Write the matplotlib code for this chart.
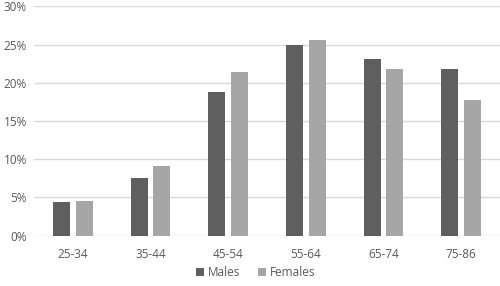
import numpy as np
import matplotlib
matplotlib.use("Agg")
from matplotlib import pyplot as plt
from matplotlib.ticker import PercentFormatter

# Age groups and share of each sex (percent)
ages = ["25-34", "35-44", "45-54", "55-64", "65-74", "75-86"]
males = [4.35, 7.55, 18.8, 24.9, 23.1, 21.8]
females = [4.5, 9.1, 21.4, 25.6, 21.8, 17.8]

plt.rcParams["font.family"] = ["Open Sans", "DejaVu Sans"]
text_col = "#595959"

fig = plt.figure(figsize=(5, 2.86), dpi=100)
ax = fig.add_axes([0.068, 0.176, 0.932, 0.802])

x = np.arange(len(ages))
w = 0.22
gap = 0.07
ax.bar(x - (w + gap) / 2, males, w, color="#5f5f5f", label="Males", zorder=3)
ax.bar(x + (w + gap) / 2, females, w, color="#a6a6a6", label="Females", zorder=3)

ax.set_xlim(-0.5, len(ages) - 0.5)
ax.set_ylim(0, 30)
ax.set_yticks(np.arange(0, 31, 5))
ax.yaxis.set_major_formatter(PercentFormatter(decimals=0))
ax.set_xticks(x)
ax.set_xticklabels(ages)
ax.grid(axis="y", color="#d9d9d9", linewidth=1, zorder=0)
for s in ax.spines.values():
    s.set_visible(False)
ax.tick_params(length=0, labelsize=8.5, colors=text_col)
ax.tick_params(axis="x", pad=9)
ax.tick_params(axis="y", pad=5)

ax.legend(loc="center", bbox_to_anchor=(0.475, -0.16), ncol=2, frameon=False,
          fontsize=8.5, labelcolor=text_col, handlelength=0.7, handleheight=0.7,
          handletextpad=0.3, columnspacing=1.5)

fig.savefig("out.png", dpi=100)
